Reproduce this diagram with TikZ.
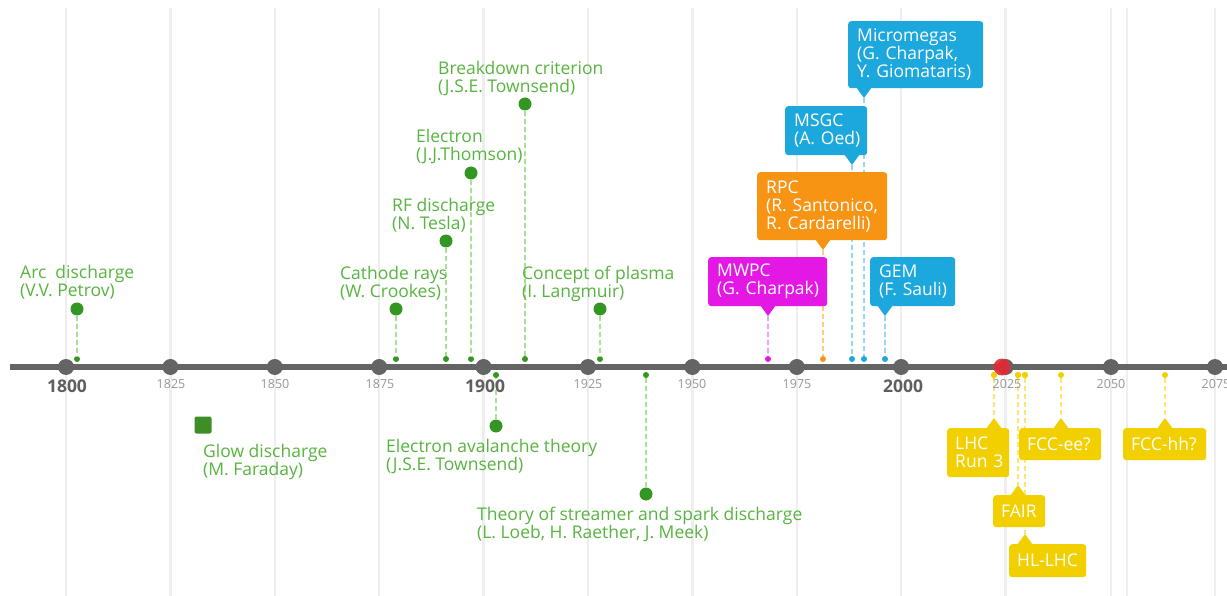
\documentclass[tikz,border=0pt]{standalone}
\usepackage{fontspec}
\setmainfont{Open Sans}
\usetikzlibrary{calc}

\definecolor{gridgray}{RGB}{238,238,238}
\definecolor{axisgray}{RGB}{100,100,100}
\definecolor{yrgray}{RGB}{150,150,150}
\definecolor{yrdark}{RGB}{95,95,95}
\definecolor{lblgreen}{RGB}{88,180,64}
\definecolor{dotgreen}{RGB}{52,150,34}
\definecolor{sqgreen}{RGB}{62,142,40}
\definecolor{dashgreen}{RGB}{168,224,148}
\definecolor{cblue}{RGB}{28,168,220}
\definecolor{dblue}{RGB}{150,215,240}
\definecolor{corange}{RGB}{248,148,20}
\definecolor{dorange}{RGB}{250,205,130}
\definecolor{cmag}{RGB}{228,24,228}
\definecolor{dmag}{RGB}{245,160,245}
\definecolor{cyellow}{RGB}{242,208,0}
\definecolor{dyellow}{RGB}{250,232,110}
\definecolor{nowred}{RGB}{228,40,50}

\begin{document}
\begin{tikzpicture}[x=1pt,y=-1pt,
  grid/.style={draw=gridgray, line width=2.5pt},
  axisline/.style={draw=axisgray, line width=6pt},
  tickdot/.style={circle, fill=axisgray, minimum size=16pt, inner sep=0pt},
  yrsmall/.style={text=yrgray, font=\fontsize{12.5}{14}\selectfont, inner sep=0pt},
  yrbig/.style={text=yrdark, font=\fontsize{17.5}{18}\bfseries\selectfont, inner sep=0pt},
  lbl/.style={text=lblgreen, font=\fontsize{17.5}{18}\selectfont, align=left, inner sep=0pt, anchor=base west},
  gdot/.style={circle, fill=dotgreen, minimum size=13pt, inner sep=0pt},
  adot/.style={circle, fill=#1, minimum size=6pt, inner sep=0pt},
  ddash/.style={draw=#1, line width=2pt, dash pattern=on 5pt off 3pt},
  callout/.style={fill=#1, rounded corners=3pt, text=white,
    font=\fontsize{17.5}{18}\selectfont, align=left, inner xsep=9pt, inner ysep=0pt,
    anchor=north west}
]
\useasboundingbox (0,0) rectangle (1227,596);
\fill[white] (0,0) rectangle (1227,596);

% vertical grid lines
\foreach \gx in {66,170.4,274.8,379.2,483.6,588,692.4,796.8,901.2,1005.6,1111,1127,1215}
  \draw[grid] (\gx,8) -- (\gx,596);

% ---- points of time on the axis ----
% green events above the axis
\node[adot=dotgreen] (arcA) at (77,359) {};
\node[adot=dotgreen] (crA) at (396,359) {};
\node[adot=dotgreen] (rfA) at (446,359) {};
\node[adot=dotgreen] (elA) at (471,359) {};
\node[adot=dotgreen] (bdA) at (525,359) {};
\node[adot=dotgreen] (plA) at (600,359) {};
% green events below the axis
\node[adot=dotgreen] (avA) at (496,375) {};
\node[adot=dotgreen] (stA) at (646,375) {};
% detectors
\node[adot=cmag] (mwpcA) at (768,359) {};
\node[adot=corange] (rpcA) at (823,359) {};
\node[adot=cblue] (msgcA) at (852,359) {};
\node[adot=cblue] (mmA) at (864,359) {};
\node[adot=cblue] (gemA) at (885,359) {};
% accelerators
\node[adot=cyellow] (lhcA) at (994,375) {};
\node[adot=cyellow] (fairA) at (1018,375) {};
\node[adot=cyellow] (hlA) at (1025,375) {};
\node[adot=cyellow] (eeA) at (1061,375) {};
\node[adot=cyellow] (hhA) at (1165,375) {};

% big event dots
\node[gdot] (arcD) at (77,309) {};
\node[gdot] (crD) at (396,309) {};
\node[gdot] (rfD) at (446,241) {};
\node[gdot] (elD) at (471,173) {};
\node[gdot] (bdD) at (525,104) {};
\node[gdot] (plD) at (600,309) {};
\node[gdot] (avD) at (496,426) {};
\node[gdot] (stD) at (646,494) {};

% pointer tips of the callouts
\coordinate (mwpcT) at (768,316);
\coordinate (rpcT) at (823,250);
\coordinate (msgcT) at (852,165);
\coordinate (mmT) at (864,98);
\coordinate (gemT) at (885,316);
\coordinate (lhcT) at (994,418);
\coordinate (eeT) at (1061,418);
\coordinate (hhT) at (1165,418);
\coordinate (fairT) at (1018,485);
\coordinate (hlT) at (1025,534);

% dashed drop lines
\foreach \e in {arc,cr,rf,el,bd,pl,av,st}
  \draw[ddash=dashgreen] (\e D) -- (\e A);
\draw[ddash=dmag] (mwpcT) -- (mwpcA);
\draw[ddash=dorange] (rpcT) -- (rpcA);
\foreach \e in {msgc,mm,gem}
  \draw[ddash=dblue] (\e T) -- (\e A);
\foreach \e in {lhc,fair,hl,ee,hh}
  \draw[ddash=dyellow] (\e A) -- (\e T);

% time axis
\draw[axisline] (10,367) -- (1227,367);
\foreach \yr/\gx in {1800/66,1825/170.4,1850/274.8,1875/379.2,1900/483.6,1925/588,1950/692.4,1975/796.8,2000/901.2,2025/1005.6,2050/1111,2075/1215}
  \node[tickdot] (t\yr) at (\gx,367) {};
\node[circle, fill=nowred, fill opacity=0.9, minimum size=17pt, inner sep=0pt] (now) at (1002,367) {};
% redraw the axis dots for the near-present entries
\foreach \e in {lhc,fair,hl}
  \node[adot=cyellow] at (\e A) {};

% year labels
\node[yrbig] (y1800) at (67,386) {1800};
\node[yrsmall] (y1825) at (171,384) {1825};
\node[yrsmall] (y1850) at (275,384) {1850};
\node[yrsmall] (y1875) at (380,384) {1875};
\node[yrbig] (y1900) at (485,386) {1900};
\node[yrsmall] (y1925) at (588,384) {1925};
\node[yrsmall] (y1950) at (692,384) {1950};
\node[yrsmall] (y1975) at (797,384) {1975};
\node[yrbig] (y2000) at (903,386) {2000};
\node[yrsmall] (y2025) at (1007,384) {2025};
\node[yrsmall] (y2050) at (1111,384) {2050};
\node[yrsmall] (y2075) at (1216,384) {2075};

% glow discharge marker
\node[fill=sqgreen, rounded corners=2pt, minimum size=17pt, inner sep=0pt] (glowS) at (203,425) {};

% green event labels (anchored at the baseline of their last line)
\node[lbl] (arcL) at (20,296.5) {Arc~ discharge\\(V.V. Petrov)};
\node[lbl] (glowL) at (203,475) {Glow discharge\\(M. Faraday)};
\node[lbl] (crL) at (340,297.5) {Cathode rays\\(W. Crookes)};
\node[lbl] (rfL) at (392,229.5) {RF discharge\\(N. Tesla)};
\node[lbl] (elL) at (416,160.5) {Electron\\(J.J.Thomson)};
\node[lbl] (bdL) at (438,92.5) {Breakdown criterion\\(J.S.E. Townsend)};
\node[lbl] (plL) at (522,297.5) {Concept of plasma\\(I. Langmuir)};
\node[lbl] (avL) at (386,470.5) {Electron avalanche theory\\(J.S.E. Townsend)};
\node[lbl] (stL) at (477,538.5) {Theory of streamer and spark discharge\\(L. Loeb, H. Raether, J. Meek)};

% detector callouts (pointing down)
\fill[cmag] (mwpcT) -- ++(-8,-11) -- ++(16,0) -- cycle;
\node[callout=cmag, text width=101pt, minimum height=49pt] (mwpc) at (708,257) {MWPC\\(G.~Charpak)};
\fill[corange] (rpcT) -- ++(-8,-11) -- ++(16,0) -- cycle;
\node[callout=corange, text width=112pt, minimum height=68pt] (rpc) at (757,172) {RPC\\(R.~Santonico,\\R.~Cardarelli)};
\fill[cblue] (msgcT) -- ++(-8,-11) -- ++(16,0) -- cycle;
\node[callout=cblue, text width=64pt, minimum height=49pt] (msgc) at (785,106) {MSGC\\(A.~Oed)};
\fill[cblue] (mmT) -- ++(-8,-11) -- ++(16,0) -- cycle;
\node[callout=cblue, text width=117pt, minimum height=67pt] (mm) at (848,21) {Micromegas\\(G.~Charpak,\\Y.~Giomataris)};
\fill[cblue] (gemT) -- ++(-8,-11) -- ++(16,0) -- cycle;
\node[callout=cblue, text width=67pt, minimum height=49pt] (gem) at (870,257) {GEM\\(F.~Sauli)};

% accelerator callouts (pointing up)
\fill[cyellow] (lhcT) -- ++(-8,11) -- ++(16,0) -- cycle;
\node[callout=cyellow, inner xsep=8pt, text width=46pt, minimum height=49pt] (lhc) at (947,428) {LHC\\Run~3};
\fill[cyellow] (eeT) -- ++(-8,11) -- ++(16,0) -- cycle;
\node[callout=cyellow, inner xsep=8pt, text width=66pt, minimum height=32pt] (ee) at (1019,428) {FCC-ee?};
\fill[cyellow] (hhT) -- ++(-8,11) -- ++(16,0) -- cycle;
\node[callout=cyellow, inner xsep=8pt, text width=67pt, minimum height=32pt] (hh) at (1123,428) {FCC-hh?};
\fill[cyellow] (fairT) -- ++(-8,11) -- ++(16,0) -- cycle;
\node[callout=cyellow, inner xsep=8pt, text width=36pt, minimum height=32pt] (fair) at (993,495) {FAIR};
\fill[cyellow] (hlT) -- ++(-8,11) -- ++(16,0) -- cycle;
\node[callout=cyellow, inner xsep=8pt, text width=61pt, minimum height=33pt] (hl) at (1009,544) {HL-LHC};
\end{tikzpicture}
\end{document}
